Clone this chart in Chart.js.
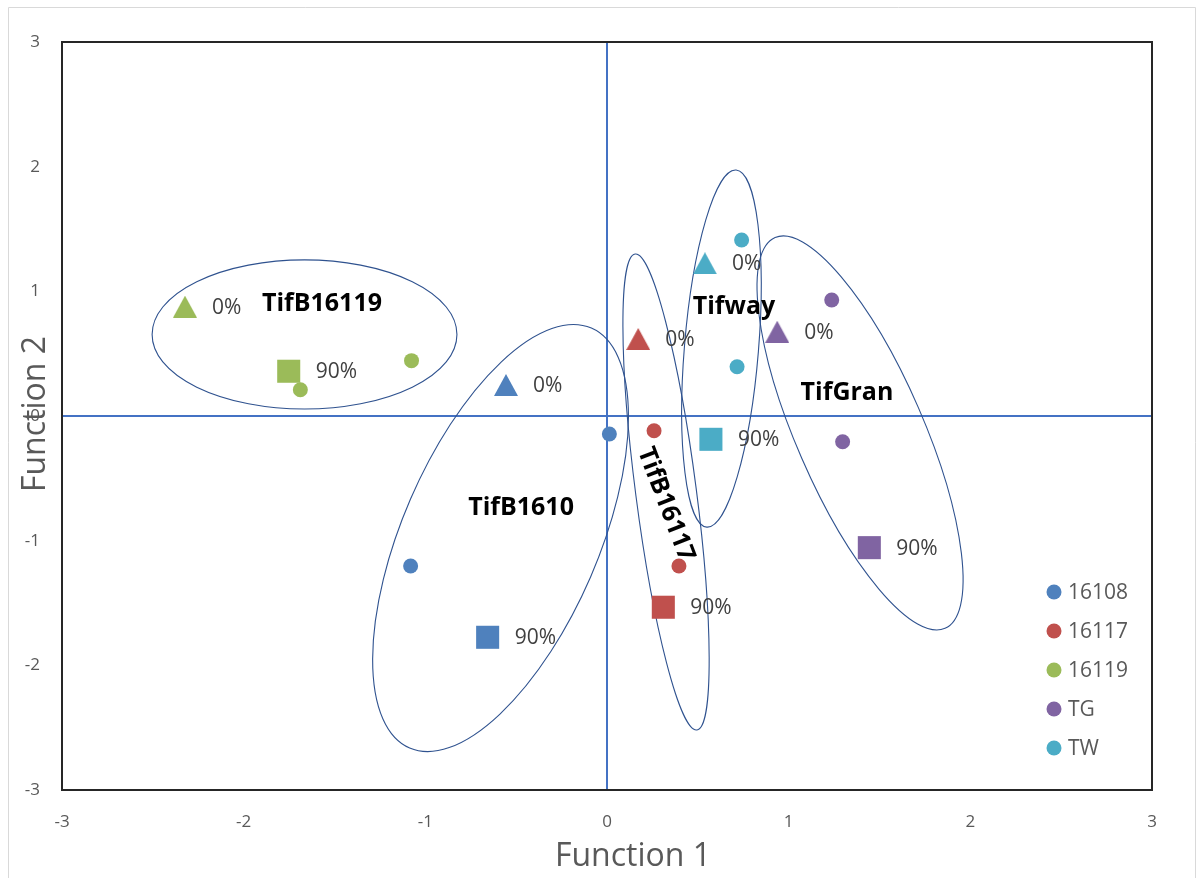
<!DOCTYPE html>
<html>
<head>
<meta charset="utf-8">
<script src="https://cdn.jsdelivr.net/npm/chart.js@4"></script>
<style>
  html, body { margin: 0; padding: 0; background: #fff; }
  #wrap { width: 1196px; height: 878px; }
</style>
</head>
<body>
<div id="wrap"><canvas id="chart" width="1196" height="878"></canvas></div>
<script>
// groups (legend order) and their colours
const groups = ["16108", "16117", "16119", "TG", "TW"];
const groupColors = ["#4F81BD", "#C0504D", "#9BBB59", "#8064A2", "#4BACC6"];

// every group has the same point order: 0% triangle, 90% square, two circles
const pointKinds = ["triangle", "square", "circle", "circle"];
const pointTags = ["0%", "90%", "", ""];

const x16108 = [-0.556, -0.657, 0.013, -1.081];
const y16108 = [0.249, -1.775, -0.144, -1.203];
const x16117 = [0.172, 0.310, 0.259, 0.396];
const y16117 = [0.618, -1.534, -0.118, -1.203];
const x16119 = [-2.323, -1.752, -1.076, -1.688];
const y16119 = [0.877, 0.359, 0.444, 0.211];
const xTG = [0.937, 1.444, 1.237, 1.297];
const yTG = [0.676, -1.056, 0.930, -0.206];
const xTW = [0.539, 0.572, 0.741, 0.716];
const yTW = [1.225, -0.187, 1.412, 0.395];

const seriesX = [x16108, x16117, x16119, xTG, xTW];
const seriesY = [y16108, y16117, y16119, yTG, yTW];

// group ellipses (centre in data units, semi axes in x / y units, tilt in degrees)
const ellipseNames = ["TifB16119", "TifB1610", "TifB16117", "Tifway", "TifGran"];
const ellipseCx = [-1.665, -0.586, 0.325, 0.630, 1.393];
const ellipseCy = [0.654, -0.979, -0.610, 0.541, -0.136];
const ellipseRx = [0.839, 0.540, 0.167, 0.204, 0.350];
const ellipseRy = [0.598, 1.835, 1.925, 1.437, 1.709];
const ellipseRot = [0, 23.4, -7.4, 4.7, -23.5];
const labelX = [-1.569, -0.473, 0.329, 0.699, 1.321];
const labelY = [0.906, -0.730, -0.706, 0.882, 0.193];
const labelRot = [0, 0, 69, 0, 0];

const axisMin = -3;
const axisMax = 3;
const xTitle = "Function 1";
const yTitle = "Function 2";

const FONT = "'Open Sans', 'DejaVu Sans', sans-serif";

function triangleImage(color) {
    const c = document.createElement("canvas");
    c.width = 24;
    c.height = 22;
    const g = c.getContext("2d");
    g.fillStyle = color;
    g.beginPath();
    g.moveTo(12, 0);
    g.lineTo(24, 22);
    g.lineTo(0, 22);
    g.closePath();
    g.fill();
    return c;
}

function styleFor(kind, color) {
    if (kind === "triangle") return triangleImage(color);
    if (kind === "square") return "rect";
    return "circle";
}
const radiusFor = { triangle: 12, square: 16.3, circle: 7.5 };

const datasets = groups.map((name, g) => ({
    label: name,
    data: seriesX[g].map((x, i) => ({ x: x, y: seriesY[g][i] })),
    pointStyle: pointKinds.map(k => styleFor(k, groupColors[g])),
    pointRadius: pointKinds.map(k => radiusFor[k]),
    pointHoverRadius: pointKinds.map(k => radiusFor[k]),
    backgroundColor: groupColors[g],
    borderColor: groupColors[g],
    borderWidth: 0,
    showLine: false,
}));

const overlay = {
    id: "overlay",
    beforeDraw(chart) {
        const ctx = chart.ctx;
        ctx.save();
        ctx.strokeStyle = "#D9D9D9";
        ctx.lineWidth = 1;
        ctx.beginPath();
        ctx.moveTo(8.5, 878);
        ctx.lineTo(8.5, 7.5);
        ctx.lineTo(1195.5, 7.5);
        ctx.lineTo(1195.5, 878);
        ctx.stroke();
        ctx.restore();
    },
    beforeDatasetsDraw(chart) {
        const { ctx, chartArea: a, scales: { x: xs, y: ys } } = chart;
        ctx.save();
        ctx.strokeStyle = "#262626";
        ctx.lineWidth = 2;
        ctx.strokeRect(a.left, a.top, a.right - a.left, a.bottom - a.top);

        const kx = xs.getPixelForValue(1) - xs.getPixelForValue(0);
        const ky = ys.getPixelForValue(0) - ys.getPixelForValue(1);
        ctx.strokeStyle = "#2F528F";
        ctx.lineWidth = 1.1;
        ellipseNames.forEach((n, i) => {
            ctx.beginPath();
            ctx.ellipse(xs.getPixelForValue(ellipseCx[i]), ys.getPixelForValue(ellipseCy[i]),
                ellipseRx[i] * kx, ellipseRy[i] * ky, ellipseRot[i] * Math.PI / 180, 0, Math.PI * 2);
            ctx.stroke();
        });
        ctx.restore();
    },
    afterDatasetsDraw(chart) {
        const { ctx, chartArea: a, scales: { x: xs, y: ys } } = chart;
        ctx.save();

        // 0% / 90% tags beside the markers
        ctx.font = "21px " + FONT;
        ctx.fillStyle = "#404040";
        ctx.textAlign = "left";
        ctx.textBaseline = "middle";
        groups.forEach((name, g) => {
            chart.getDatasetMeta(g).data.forEach((el, i) => {
                if (pointTags[i]) ctx.fillText(pointTags[i], el.x + 27, el.y + 1);
            });
        });

        // group names
        ctx.font = "bold 25px " + FONT;
        ctx.fillStyle = "#000";
        ctx.textAlign = "center";
        ellipseNames.forEach((n, i) => {
            ctx.save();
            ctx.translate(xs.getPixelForValue(labelX[i]), ys.getPixelForValue(labelY[i]));
            ctx.rotate(labelRot[i] * Math.PI / 180);
            ctx.fillText(n, 0, 1);
            ctx.restore();
        });

        // legend, bottom right inside the plot
        ctx.font = "21px " + FONT;
        ctx.textAlign = "left";
        groups.forEach((name, g) => {
            const cy = a.bottom - 198 + g * 39;
            const cx = a.right - 98;
            ctx.fillStyle = groupColors[g];
            ctx.beginPath();
            ctx.arc(cx, cy, 7.5, 0, Math.PI * 2);
            ctx.fill();
            ctx.fillStyle = "#595959";
            ctx.fillText(name, cx + 14, cy + 1);
        });

        // axis titles
        ctx.font = "32px " + FONT;
        ctx.fillStyle = "#595959";
        ctx.textAlign = "center";
        ctx.fillText(xTitle, 633, 857);
        ctx.translate(36, 414);
        ctx.rotate(-Math.PI / 2);
        ctx.fillText(yTitle, 0, 0);
        ctx.restore();
    }
};

const zeroLine = (c) => (c.tick && c.tick.value === 0 ? "#4472C4" : "rgba(0,0,0,0)");

new Chart(document.getElementById("chart").getContext("2d"), {
    type: "scatter",
    data: { datasets: datasets },
    plugins: [overlay],
    options: {
        responsive: false,
        animation: false,
        layout: { padding: { left: 0, top: 42, right: 44, bottom: 0 } },
        plugins: {
            legend: { display: false },
            tooltip: { enabled: false },
        },
        scales: {
            x: {
                type: "linear",
                min: axisMin,
                max: axisMax,
                border: { display: false },
                grid: { color: zeroLine, lineWidth: 2, drawTicks: false },
                ticks: { stepSize: 1, padding: 22, color: "#595959", font: { family: FONT, size: 17 } },
                afterFit: (s) => { s.height = 88; },
            },
            y: {
                type: "linear",
                min: axisMin,
                max: axisMax,
                border: { display: false },
                grid: { color: zeroLine, lineWidth: 2, drawTicks: false },
                ticks: { stepSize: 1, padding: 22, color: "#595959", font: { family: FONT, size: 17 } },
                afterFit: (s) => { s.width = 62; },
            },
        },
    },
});
</script>
</body>
</html>
